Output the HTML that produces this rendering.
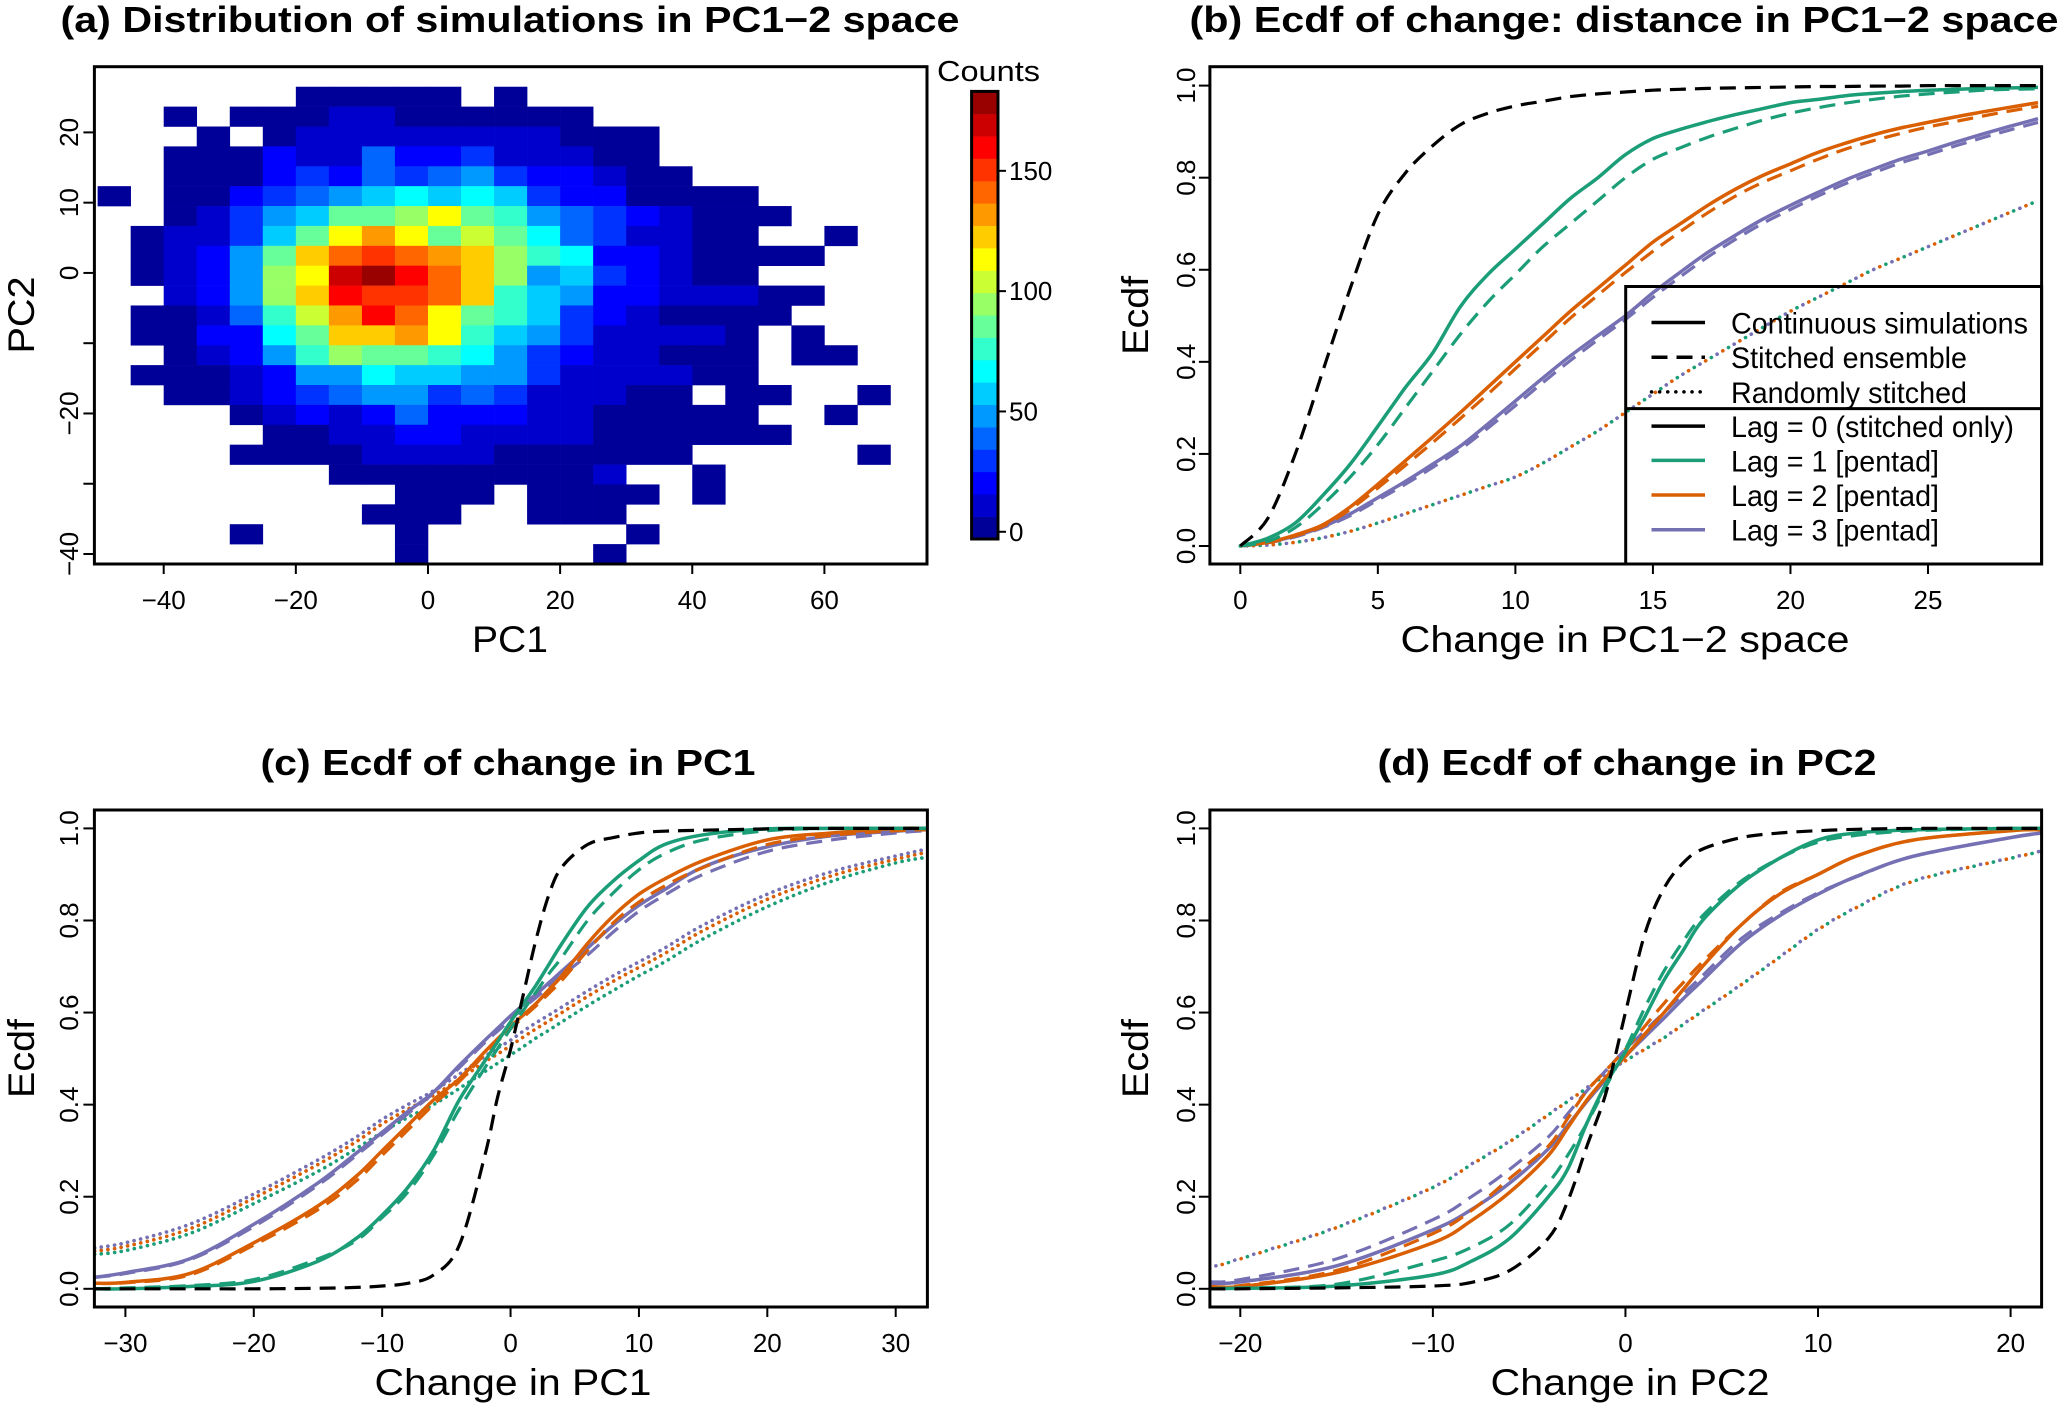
<!DOCTYPE html>
<html><head><meta charset="utf-8"><style>
html,body{margin:0;padding:0;background:#fff}
svg{display:block;font-family:"Liberation Sans",Arial,sans-serif}
</style></head><body>
<svg id="fig" width="2066" height="1410" viewBox="0 0 2066 1410" xmlns="http://www.w3.org/2000/svg"></svg>
<script>
// ---------- Panel (a) data: counts per bin (rows top->bottom, cols left->right) ----------
const heatXStart = -50, heatBinW = 5, heatYTop = 26.5, heatBinH = 2.83;
const heatCounts = [
[0,0,0,0,0,0,3,3,3,3,3,0,3,0,0,0,0,0,0,0,0,0,0,0],
[0,0,3,0,3,3,3,12,12,3,3,3,3,3,3,0,0,0,0,0,0,0,0,0],
[0,0,0,3,0,3,12,12,12,12,12,12,12,12,3,3,3,0,0,0,0,0,0,0],
[0,0,3,3,3,20,12,12,38,20,20,29,12,12,12,3,3,0,0,0,0,0,0,0],
[0,0,3,3,3,20,29,20,38,29,38,47,29,20,20,12,3,3,0,0,0,0,0,0],
[3,0,3,3,20,29,38,47,56,65,56,65,56,29,20,20,3,3,3,3,0,0,0,0],
[0,0,3,12,29,47,56,84,84,93,111,84,74,47,38,29,20,12,3,3,3,0,0,0],
[0,3,12,12,29,56,84,111,130,111,84,104,84,65,38,29,12,12,3,3,0,0,3,0],
[0,3,12,20,47,84,121,139,149,139,130,121,93,74,65,20,20,12,3,3,3,3,0,0],
[0,3,12,20,47,93,111,167,177,158,139,121,93,47,56,29,20,12,3,3,0,0,0,0],
[0,0,12,20,47,93,121,158,149,149,139,121,74,56,47,20,20,12,12,12,3,3,0,0],
[0,3,3,12,38,74,104,130,158,139,111,84,74,56,29,20,12,3,3,3,3,0,0,0],
[0,3,3,20,20,65,84,121,121,130,111,74,56,47,29,12,12,12,12,3,0,3,0,0],
[0,0,3,12,20,47,74,93,84,84,74,65,47,29,20,12,12,3,3,3,0,3,3,0],
[0,3,3,3,12,20,47,47,65,56,56,47,47,29,12,12,12,12,3,3,0,0,0,0],
[0,0,3,3,12,20,29,38,47,47,29,38,29,12,12,12,3,3,0,3,3,0,0,3],
[0,0,0,0,3,12,20,12,20,38,20,20,20,12,12,3,3,3,3,3,0,0,3,0],
[0,0,0,0,0,3,3,12,12,20,20,12,12,12,12,3,3,3,3,3,3,0,0,0],
[0,0,0,0,3,3,3,3,12,12,12,12,3,3,3,3,3,3,0,0,0,0,0,3],
[0,0,0,0,0,0,0,3,3,3,3,3,3,3,3,12,0,0,3,0,0,0,0,0],
[0,0,0,0,0,0,0,0,0,3,3,3,0,3,3,3,3,0,3,0,0,0,0,0],
[0,0,0,0,0,0,0,0,3,3,3,0,0,3,3,3,0,0,0,0,0,0,0,0],
[0,0,0,0,3,0,0,0,0,3,0,0,0,0,0,0,3,0,0,0,0,0,0,0],
[0,0,0,0,0,0,0,0,0,3,0,0,0,0,0,3,0,0,0,0,0,0,0,0]
];
const aXTicks = [-40,-20,0,20,40,60];
const aYTicks = [20,10,0,-10,-20,-30,-40];
const aYLabels = ["20","10","0","","\u221220","","\u221240"];
const cbTicks = [0,50,100,150];
const cbMin = -3, cbMax = 183, cbLevels = 20;

// ---------- Panel (b) ----------
const bX = [0,1,2,3,4,5,6,7,8,9,10,11,12,13,14,15,16,17,18,19,20,21,22,23,24,25,26,27,28,29];
const bLag0Dash = [0,0.06,0.2,0.38,0.56,0.72,0.81,0.87,0.915,0.94,0.956,0.966,0.976,0.982,0.986,0.99,0.992,0.994,0.995,0.996,0.997,0.998,0.998,0.999,0.999,1,1,1,1,1];
const bGreenSolid = [0,0.017,0.05,0.11,0.178,0.26,0.344,0.42,0.52,0.59,0.645,0.70,0.755,0.80,0.85,0.885,0.905,0.922,0.937,0.95,0.963,0.97,0.978,0.983,0.987,0.99,0.992,0.994,0.995,0.996];
const bGreenDash = [0,0.01,0.04,0.09,0.15,0.22,0.30,0.38,0.46,0.53,0.59,0.65,0.70,0.75,0.80,0.84,0.865,0.888,0.907,0.925,0.94,0.952,0.962,0.97,0.977,0.982,0.986,0.99,0.992,0.993];
const bOrangeSolid = [0,0.008,0.024,0.046,0.085,0.134,0.185,0.237,0.29,0.345,0.40,0.455,0.51,0.56,0.61,0.66,0.70,0.74,0.775,0.805,0.83,0.855,0.875,0.893,0.908,0.92,0.932,0.943,0.953,0.963];
const bOrangeDash = [0,0.007,0.022,0.043,0.08,0.126,0.175,0.225,0.277,0.33,0.385,0.44,0.495,0.545,0.594,0.64,0.683,0.724,0.76,0.79,0.815,0.84,0.862,0.88,0.896,0.91,0.922,0.934,0.945,0.955];
const bPurpleSolid = [0,0.008,0.022,0.042,0.07,0.105,0.14,0.178,0.217,0.265,0.315,0.365,0.413,0.457,0.50,0.55,0.595,0.638,0.675,0.71,0.74,0.768,0.795,0.818,0.84,0.858,0.877,0.895,0.912,0.928];
const bPurpleDash = [0,0.007,0.02,0.04,0.066,0.1,0.134,0.171,0.21,0.256,0.305,0.355,0.403,0.448,0.492,0.54,0.585,0.628,0.666,0.701,0.731,0.76,0.787,0.81,0.832,0.85,0.869,0.887,0.904,0.92];
const bRandomDot = [0,0.002,0.008,0.018,0.032,0.05,0.07,0.09,0.11,0.13,0.15,0.18,0.215,0.25,0.29,0.33,0.37,0.405,0.44,0.475,0.51,0.54,0.57,0.6,0.625,0.65,0.675,0.70,0.725,0.75];
const bXTicks = [0,5,10,15,20,25];
const ecdfTicks = [0,0.2,0.4,0.6,0.8,1.0];
const ecdfLabels = ["0.0","0.2","0.4","0.6","0.8","1.0"];

// ---------- Panel (c) ----------
const cX = [-32.4,-30,-25,-20,-15,-12,-10,-8,-6,-4,-2,-1,0,1,2,3,4,6,8,10,12,15,20,25,30,32.4];
const cLag0Dash = [0,0,0,0,0.001,0.003,0.006,0.012,0.03,0.094,0.29,0.417,0.52,0.64,0.76,0.857,0.916,0.965,0.98,0.99,0.994,0.996,0.999,1,1,1];
const cGreenSolid = [0,0,0.005,0.016,0.06,0.11,0.16,0.22,0.30,0.41,0.495,0.537,0.58,0.62,0.66,0.705,0.75,0.83,0.886,0.93,0.965,0.986,0.999,1,1,1];
const cGreenDash = [0,0.002,0.007,0.02,0.065,0.105,0.155,0.21,0.29,0.39,0.48,0.522,0.565,0.605,0.645,0.685,0.72,0.80,0.86,0.91,0.945,0.975,0.995,1,1,1];
const cOrangeSolid = [0.012,0.014,0.033,0.10,0.18,0.245,0.30,0.355,0.41,0.456,0.515,0.543,0.57,0.595,0.62,0.65,0.68,0.75,0.81,0.857,0.89,0.93,0.975,0.99,1,1];
const cOrangeDash = [0.012,0.013,0.03,0.095,0.172,0.235,0.29,0.345,0.40,0.45,0.51,0.538,0.565,0.59,0.615,0.642,0.67,0.735,0.795,0.84,0.875,0.915,0.965,0.985,0.995,0.997];
const cPurpleSolid = [0.025,0.035,0.065,0.14,0.23,0.295,0.34,0.385,0.427,0.485,0.54,0.566,0.593,0.617,0.64,0.665,0.69,0.74,0.79,0.833,0.867,0.916,0.96,0.984,0.994,0.997];
const cPurpleDash = [0.025,0.033,0.063,0.135,0.225,0.29,0.335,0.38,0.425,0.48,0.535,0.56,0.585,0.61,0.633,0.657,0.68,0.725,0.775,0.82,0.855,0.90,0.95,0.975,0.99,0.995];
const cPurpleDot = [0.089,0.1,0.14,0.206,0.28,0.33,0.368,0.40,0.43,0.466,0.505,0.523,0.54,0.56,0.578,0.595,0.612,0.647,0.68,0.71,0.74,0.79,0.857,0.906,0.94,0.955];
const cOrangeDot = [0.082,0.092,0.13,0.197,0.27,0.32,0.358,0.39,0.42,0.455,0.493,0.51,0.528,0.547,0.565,0.582,0.6,0.635,0.668,0.698,0.728,0.778,0.846,0.897,0.933,0.948];
const cGreenDot = [0.075,0.083,0.12,0.185,0.255,0.305,0.34,0.372,0.40,0.435,0.472,0.49,0.508,0.526,0.545,0.562,0.58,0.615,0.648,0.68,0.71,0.76,0.83,0.885,0.925,0.937];
const cXTicks = [-30,-20,-10,0,10,20,30];

// ---------- Panel (d) ----------
const dX = [-21.6,-20,-15,-10,-8,-6,-4,-3,-2,-1,0,1,2,3,4,6,8,10,12,15,20,21.6];
const dLag0Dash = [0,0,0.002,0.006,0.014,0.04,0.11,0.19,0.31,0.427,0.6,0.77,0.87,0.925,0.955,0.98,0.99,0.995,0.998,1,1,1];
const dGreenSolid = [0,0.001,0.006,0.03,0.06,0.11,0.2,0.26,0.36,0.446,0.515,0.59,0.67,0.735,0.80,0.88,0.935,0.975,0.99,0.997,1,1];
const dGreenDash = [0,0.002,0.01,0.06,0.09,0.14,0.23,0.29,0.36,0.44,0.52,0.61,0.69,0.755,0.81,0.885,0.935,0.97,0.985,0.995,1,1];
const dOrangeSolid = [0.005,0.005,0.035,0.1,0.148,0.21,0.29,0.35,0.41,0.46,0.505,0.553,0.60,0.65,0.70,0.79,0.857,0.90,0.94,0.975,0.995,0.997];
const dOrangeDash = [0.005,0.007,0.04,0.12,0.17,0.24,0.31,0.37,0.43,0.475,0.52,0.57,0.62,0.665,0.71,0.79,0.86,0.9,0.94,0.975,0.995,0.997];
const dPurpleSolid = [0.012,0.015,0.05,0.128,0.172,0.23,0.304,0.355,0.407,0.456,0.505,0.547,0.588,0.63,0.67,0.75,0.81,0.857,0.896,0.94,0.98,0.99];
const dPurpleDash = [0.015,0.02,0.065,0.15,0.2,0.26,0.33,0.38,0.43,0.475,0.52,0.56,0.6,0.64,0.68,0.76,0.815,0.86,0.895,0.94,0.98,0.99];
const dGreenDot = [0.045,0.065,0.133,0.22,0.27,0.32,0.378,0.407,0.436,0.466,0.495,0.52,0.545,0.574,0.603,0.66,0.72,0.78,0.828,0.886,0.935,0.95];
const dOrangeDot = [0.045,0.065,0.133,0.22,0.27,0.32,0.378,0.407,0.436,0.466,0.495,0.52,0.545,0.574,0.603,0.66,0.72,0.78,0.828,0.886,0.935,0.95];
const dPurpleDot = [0.046,0.066,0.134,0.221,0.271,0.321,0.379,0.408,0.437,0.467,0.496,0.521,0.546,0.575,0.604,0.661,0.721,0.781,0.829,0.887,0.936,0.951];
const dXTicks = [-20,-10,0,10,20];

// ---------- drawing ----------
const NS = "http://www.w3.org/2000/svg";
const svg = document.getElementById('fig');
const GREEN = "#1B9E77", ORANGE = "#D95F02", PURPLE = "#7570B3";
function el(tag, attrs, parent, text) {
  const e = document.createElementNS(NS, tag);
  for (const k in attrs) e.setAttribute(k, attrs[k]);
  if (text !== undefined) e.textContent = text;
  (parent || svg).appendChild(e);
  return e;
}
function lin(d0, d1, p0, p1) { return v => p0 + (v - d0) * (p1 - p0) / (d1 - d0); }
function jet(k) {
  const t = (k + 0.5) / cbLevels;
  const c = v => Math.round(255 * Math.max(0, Math.min(1, v)));
  return `rgb(${c(1.5 - Math.abs(4*t - 3))},${c(1.5 - Math.abs(4*t - 2))},${c(1.5 - Math.abs(4*t - 1))})`;
}
function level(v) { return Math.max(0, Math.min(cbLevels - 1, Math.floor((v - cbMin) / ((cbMax - cbMin) / cbLevels)))); }

function txt(parent, x, y, s, opts, name) {
  const a = Object.assign({x: x, y: y, 'font-size': 26, 'text-anchor': 'middle', fill: '#000'}, opts || {});
  const t = el('text', a, parent, s);
  
  
  return t;
}

function axes(g, box, xs, ys, xTicks, xLabels, yTicks, yLabels, yLabX, prefix) {
  const ax = el('g', {}, g);
  
  
  xTicks.forEach((v, i) => {
    const x = xs(v);
    el('line', {x1: x, x2: x, y1: box.b, y2: box.b + 10, stroke: '#000', 'stroke-width': 2}, ax);
    txt(ax, x, box.b + 45, xLabels[i], {}, prefix + '-x-tick-label');
  });
  yTicks.forEach((v, i) => {
    const y = ys(v);
    el('line', {x1: box.l - 11, x2: box.l, y1: y, y2: y, stroke: '#000', 'stroke-width': 2}, ax);
    if (yLabels[i] !== "") {
      txt(ax, 0, 0, yLabels[i], {transform: `translate(${yLabX},${y}) rotate(-90)`, y: 9}, prefix + '-y-tick-label');
    }
  });
  const fr = el('rect', {x: box.l, y: box.t, width: box.r - box.l, height: box.b - box.t, fill: 'none', stroke: '#000', 'stroke-width': 3}, g);
  
  
}

function smoothPath(P) {
  let d = 'M' + P[0][0].toFixed(1) + ',' + P[0][1].toFixed(1);
  for (let i = 0; i < P.length - 1; i++) {
    const p0 = P[Math.max(0, i - 1)], p1 = P[i], p2 = P[i + 1], p3 = P[Math.min(P.length - 1, i + 2)];
    const c1x = p1[0] + (p2[0] - p0[0]) / 6, c1y = p1[1] + (p2[1] - p0[1]) / 6;
    const c2x = p2[0] - (p3[0] - p1[0]) / 6, c2y = p2[1] - (p3[1] - p1[1]) / 6;
    d += ' C' + c1x.toFixed(1) + ',' + c1y.toFixed(1) + ' ' + c2x.toFixed(1) + ',' + c2y.toFixed(1) + ' ' + p2[0].toFixed(1) + ',' + p2[1].toFixed(1);
  }
  return d;
}

function series(g, xs, ys, X, Y, color, style, name, off) {
  const P = X.map((x, i) => [xs(x), ys(Y[i])]);
  const a = {d: smoothPath(P), fill: 'none', stroke: color, 'stroke-linejoin': 'round'};
  if (style === 'solid') { a['stroke-width'] = 3.5; }
  else if (style === 'dash') { a['stroke-width'] = 3.2; a['stroke-dasharray'] = '16 9'; }
  else {
    a['stroke-width'] = 3.6; a['stroke-linecap'] = 'round';
    if (off === undefined) { a['stroke-dasharray'] = '0.1 6.6'; }
    else { a['stroke-dasharray'] = '0.1 19.7'; a['stroke-dashoffset'] = off; }
  }
  const p = el('path', a, g);
  
  
  return p;
}

// ===== Panel A =====
(function () {
  const g = el('g', {});
  
  
  const box = {l: 94.4, r: 927, t: 66.7, b: 564};
  const xs = lin(-40, 60, 163.7, 824.4);
  const ys = lin(20, -40, 132.4, 554);
  const cells = el('g', {}, g);
  
  
  heatCounts.forEach((row, r) => row.forEach((v, c) => {
    if (!v) return;
    const x0 = xs(heatXStart + c * heatBinW), x1 = xs(heatXStart + (c + 1) * heatBinW);
    const y0 = ys(heatYTop - r * heatBinH), y1 = ys(heatYTop - (r + 1) * heatBinH);
    const rc = el('rect', {x: x0, y: y0, width: x1 - x0 + 0.3, height: y1 - y0 + 0.3, fill: jet(level(v))}, cells);
    
    
  }));
  axes(g, box, xs, ys, aXTicks, aXTicks.map(v => v < 0 ? '\u2212' + (-v) : '' + v), aYTicks, aYLabels, 69, 'panel-a');
  txt(g, 510, 32, '(a) Distribution of simulations in PC1\u22122 space', {'font-size': 36, 'font-weight': 'bold', textLength: 899, lengthAdjust: 'spacingAndGlyphs'}, 'panel-a-title');
  txt(g, 510, 652, 'PC1', {'font-size': 37, textLength: 76, lengthAdjust: 'spacingAndGlyphs'}, 'x-axis-title-pc1');
  txt(g, 0, 0, 'PC2', {'font-size': 37, transform: 'translate(21,315) rotate(-90)', y: 13, textLength: 77, lengthAdjust: 'spacingAndGlyphs'}, 'y-axis-title-pc2');
  const cb = el('g', {}, g);
  
  
  const cbT = 91.4, cbB = 539, cbL = 971.6, cbR = 998;
  const cy = lin(cbMin, cbMax, cbB, cbT);
  for (let k = 0; k < cbLevels; k++) {
    const v0 = cbMin + k * (cbMax - cbMin) / cbLevels, v1 = cbMin + (k + 1) * (cbMax - cbMin) / cbLevels;
    const rc = el('rect', {x: cbL, y: cy(v1), width: cbR - cbL, height: cy(v0) - cy(v1) + 0.3, fill: jet(k)}, cb);
    
    
  }
  el('rect', {x: cbL, y: cbT, width: cbR - cbL, height: cbB - cbT, fill: 'none', stroke: '#000', 'stroke-width': 3}, cb);
  cbTicks.forEach(v => {
    el('line', {x1: cbR, x2: cbR + 8, y1: cy(v), y2: cy(v), stroke: '#000', 'stroke-width': 2}, cb);
    txt(cb, cbR + 11, cy(v) + 9, '' + v, {'text-anchor': 'start'}, 'colorbar-tick-label');
  });
  txt(cb, 937, 81, 'Counts', {'text-anchor': 'start', 'font-size': 29, textLength: 103, lengthAdjust: 'spacingAndGlyphs'}, 'colorbar-title');
})();

function ecdfPanel(prefix, box, xs, xTicks, title, titleX, titleW, titleY, xTitle, xTitleW, xTitleCx, seriesList, yLabX, yTitleX) {
  const g = el('g', {});
  
  
  const ys = lin(0, 1, box.y0, box.y1);
  const lines = el('g', {}, g);
  
  
  const clipId = prefix + '-clip';
  const cp = el('clipPath', {id: clipId}, g);
  el('rect', {x: box.l, y: box.t, width: box.r - box.l, height: box.b - box.t}, cp);
  lines.setAttribute('clip-path', `url(#${clipId})`);
  seriesList.forEach(s => series(lines, xs, ys, s[0], s[1], s[2], s[3], s[4], s[5]));
  axes(g, box, xs, ys, xTicks, xTicks.map(v => v < 0 ? '\u2212' + (-v) : '' + v), ecdfTicks, ecdfLabels, yLabX, prefix);
  txt(g, titleX, titleY, title, {'font-size': 36, 'font-weight': 'bold', textLength: titleW, lengthAdjust: 'spacingAndGlyphs'}, prefix + '-title');
  txt(g, xTitleCx, box.b + 88, xTitle, {'font-size': 37, textLength: xTitleW, lengthAdjust: 'spacingAndGlyphs'}, prefix + '-x-axis-title');
  txt(g, 0, 0, 'Ecdf', {'font-size': 37, transform: `translate(${yTitleX},${(box.t + box.b) / 2}) rotate(-90)`, y: 13, textLength: 79, lengthAdjust: 'spacingAndGlyphs'}, prefix + '-y-axis-title');
  return g;
}

// ===== Panel B =====
(function () {
  const box = {l: 1209.9, r: 2041.6, t: 66.7, b: 564, y0: 546, y1: 85.6};
  const xs = lin(0, 25, 1240.3, 1928);
  const g = ecdfPanel('panel-b', box, xs, bXTicks, '(b) Ecdf of change: distance in PC1\u22122 space', 1624, 869, 32,
    'Change in PC1\u22122 space', 449, 1625, [
      [bX, bRandomDot, GREEN, 'dot', 'b-lag1-random-dotted', 0],
      [bX, bRandomDot, ORANGE, 'dot', 'b-lag2-random-dotted', 6.6],
      [bX, bRandomDot, PURPLE, 'dot', 'b-lag3-random-dotted', 13.2],
      [bX, bPurpleDash, PURPLE, 'dash', 'b-lag3-stitched-dashed'],
      [bX, bPurpleSolid, PURPLE, 'solid', 'b-lag3-continuous'],
      [bX, bOrangeDash, ORANGE, 'dash', 'b-lag2-stitched-dashed'],
      [bX, bOrangeSolid, ORANGE, 'solid', 'b-lag2-continuous'],
      [bX, bGreenDash, GREEN, 'dash', 'b-lag1-stitched-dashed'],
      [bX, bGreenSolid, GREEN, 'solid', 'b-lag1-continuous'],
      [bX, bLag0Dash, '#000', 'dash', 'b-lag0-stitched-dashed']
    ], 1186, 1135);
  const lg = el('g', {}, g);
  
  
  el('rect', {x: 1625.7, y: 286.5, width: 2041.6 - 1625.7, height: 564 - 286.5, fill: 'none', stroke: '#000', 'stroke-width': 3}, lg);
  el('line', {x1: 1625.7, x2: 2041.6, y1: 408.6, y2: 408.6, stroke: '#000', 'stroke-width': 3}, lg);
  const entries = [
    ['Continuous simulations', '#000', 'solid', 297, 322.5],
    ['Stitched ensemble', '#000', 'dash', 236, 357.2],
    ['Randomly stitched', '#000', 'dot', 236, 391.9],
    ['Lag = 0 (stitched only)', '#000', 'solid', 283, 426.1],
    ['Lag = 1 [pentad]', GREEN, 'solid', 208, 460.4],
    ['Lag = 2 [pentad]', ORANGE, 'solid', 208, 495],
    ['Lag = 3 [pentad]', PURPLE, 'solid', 208, 529.7]
  ];
  entries.forEach(e => {
    const a = {x1: 1651.5, x2: 1705, y1: e[4], y2: e[4], stroke: e[1], 'stroke-width': 3.5};
    if (e[2] === 'dash') a['stroke-dasharray'] = '16 9';
    if (e[2] === 'dot') { a['stroke-dasharray'] = '0.1 8'; a['stroke-linecap'] = 'round'; }
    const ln = el('line', a, lg);
    
    
    txt(lg, 1731, e[4] + 11, e[0], {'text-anchor': 'start', 'font-size': 30, textLength: e[3], lengthAdjust: 'spacingAndGlyphs'}, 'legend-entry-label');
  });
})();

// ===== Panel C =====
(function () {
  const box = {l: 94.4, r: 927.4, t: 810, b: 1307, y0: 1288.8, y1: 828.4};
  const xs = lin(-30, 30, 125.4, 895.7);
  ecdfPanel('panel-c', box, xs, cXTicks, '(c) Ecdf of change in PC1', 508, 495, 775,
    'Change in PC1', 277, 513, [
      [cX, cGreenDot, GREEN, 'dot', 'c-lag1-random-dotted'],
      [cX, cOrangeDot, ORANGE, 'dot', 'c-lag2-random-dotted'],
      [cX, cPurpleDot, PURPLE, 'dot', 'c-lag3-random-dotted'],
      [cX, cPurpleDash, PURPLE, 'dash', 'c-lag3-stitched-dashed'],
      [cX, cPurpleSolid, PURPLE, 'solid', 'c-lag3-continuous'],
      [cX, cOrangeDash, ORANGE, 'dash', 'c-lag2-stitched-dashed'],
      [cX, cOrangeSolid, ORANGE, 'solid', 'c-lag2-continuous'],
      [cX, cGreenDash, GREEN, 'dash', 'c-lag1-stitched-dashed'],
      [cX, cGreenSolid, GREEN, 'solid', 'c-lag1-continuous'],
      [cX, cLag0Dash, '#000', 'dash', 'c-lag0-stitched-dashed']
    ], 69, 21);
})();

// ===== Panel D =====
(function () {
  const box = {l: 1209.9, r: 2041.6, t: 810, b: 1307, y0: 1288.8, y1: 828.4};
  const xs = lin(-20, 20, 1240.3, 2010.6);
  ecdfPanel('panel-d', box, xs, dXTicks, '(d) Ecdf of change in PC2', 1627, 499, 775,
    'Change in PC2', 279, 1630, [
      [dX, dGreenDot, GREEN, 'dot', 'd-lag1-random-dotted', 0],
      [dX, dOrangeDot, ORANGE, 'dot', 'd-lag2-random-dotted', 6.6],
      [dX, dPurpleDot, PURPLE, 'dot', 'd-lag3-random-dotted', 13.2],
      [dX, dPurpleDash, PURPLE, 'dash', 'd-lag3-stitched-dashed'],
      [dX, dPurpleSolid, PURPLE, 'solid', 'd-lag3-continuous'],
      [dX, dOrangeDash, ORANGE, 'dash', 'd-lag2-stitched-dashed'],
      [dX, dOrangeSolid, ORANGE, 'solid', 'd-lag2-continuous'],
      [dX, dGreenDash, GREEN, 'dash', 'd-lag1-stitched-dashed'],
      [dX, dGreenSolid, GREEN, 'solid', 'd-lag1-continuous'],
      [dX, dLag0Dash, '#000', 'dash', 'd-lag0-stitched-dashed']
    ], 1186, 1135);
})();
</script>
</body></html>
